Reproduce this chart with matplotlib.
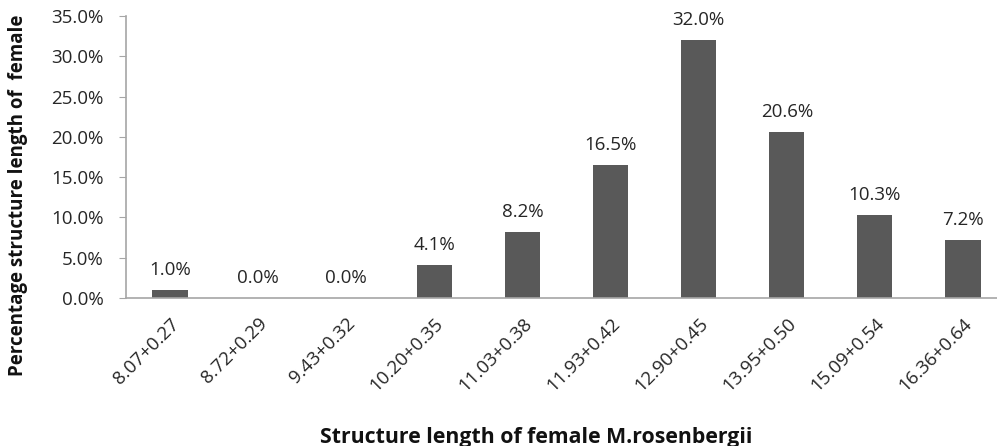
import matplotlib.pyplot as plt
from matplotlib.ticker import FuncFormatter

plt.rcParams['font.family'] = ['Open Sans', 'DejaVu Sans']

categories = ['8.07+0.27', '8.72+0.29', '9.43+0.32', '10.20+0.35', '11.03+0.38',
              '11.93+0.42', '12.90+0.45', '13.95+0.50', '15.09+0.54', '16.36+0.64']
percent = [1.0, 0.0, 0.0, 4.1, 8.2, 16.5, 32.0, 20.6, 10.3, 7.2]
yticks = [0, 5, 10, 15, 20, 25, 30, 35]

fig = plt.figure(figsize=(9.97, 4.46), dpi=100)
# plot area runs a little past the right edge, as in the cropped reference
ax = fig.add_axes([126 / 997, 148 / 446, 881 / 997, 282 / 446])

x = list(range(len(categories)))
ax.bar(x, percent, width=0.40, color='#595959', zorder=2)

for xi, v in zip(x, percent):
    ax.annotate(f'{v:.1f}%', (xi, v), xytext=(0, 8), textcoords='offset points',
                ha='center', va='bottom', fontsize=13.5, color='#262626')

ax.set_xlim(-0.5, len(categories) - 0.5)
ax.set_ylim(0, 35)
ax.set_yticks(yticks)
ax.yaxis.set_major_formatter(FuncFormatter(lambda v, p: f'{v:.1f}%'))
ax.set_xticks(x)
ax.set_xticklabels(categories, rotation=45, ha='right', rotation_mode='anchor')

for s in ['top', 'right']:
    ax.spines[s].set_visible(False)
for s in ['left', 'bottom']:
    ax.spines[s].set_color('#a6a6a6')
    ax.spines[s].set_linewidth(1.2)
ax.spines['bottom'].set_clip_on(False)

ax.tick_params(axis='y', length=5, color='#a6a6a6', labelsize=13.5, labelcolor='#262626', pad=11)
ax.tick_params(axis='x', length=0, labelsize=13.5, labelcolor='#262626', pad=12)

# axis titles placed where the reference has them
fig.text(18 / 997, 1 - 195 / 446, 'Percentage structure length of  female', rotation=90,
         ha='center', va='center', fontsize=13.5, fontweight='bold', color='#111111')
fig.text(536 / 997, 1 - 437 / 446, 'Structure length of female M.rosenbergii',
         ha='center', va='center', fontsize=15.3, fontweight='bold', color='#111111')

fig.savefig('out.png', dpi=100)
